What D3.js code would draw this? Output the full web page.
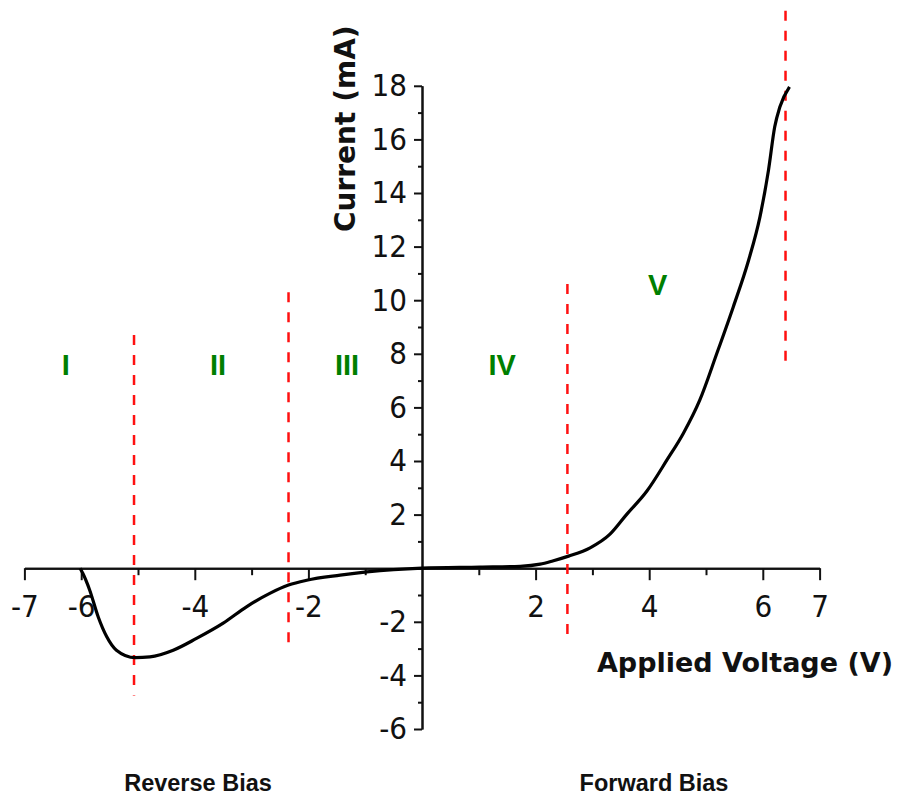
<!DOCTYPE html>
<html>
  <head>
    <meta charset="utf-8">
    <script src="https://d3js.org/d3.v7.min.js"></script>
  </head>
  <style>
    body {
      margin: 0;
      background: white;
    }
    .tick text {
      font-family: "DejaVu Sans Condensed", "DejaVu Sans", sans-serif;
      font-size: 31px;
      fill: #111;
    }
  </style>
  <body>
    <svg width="898" height="798"></svg>
    <script>
      // I-V curve (volts, mA)
      var voltage = [
        -6.02, -5.97, -5.85, -5.7, -5.55, -5.38, -5.05, -4.79, -4.38, -3.97,
        -3.5, -3.09, -2.68, -2.35, -2.03, -1.44, -0.97, 0, 1.02, 1.73, 2.08,
        2.3, 2.58, 2.96, 3.31, 3.6, 3.96, 4.31, 4.6, 4.89, 5.19, 5.48, 5.75,
        5.95, 6.1, 6.21, 6.3, 6.47,
      ];
      var current = [
        0, -0.2, -0.82, -1.82, -2.56, -3.06, -3.34, -3.31, -3.06, -2.62, -2.05,
        -1.44, -0.94, -0.63, -0.45, -0.26, -0.14, 0, 0.04, 0.07, 0.15, 0.27,
        0.45, 0.76, 1.27, 2.0, 2.88, 4.03, 5.03, 6.27, 8.01, 9.75, 11.49,
        13.11, 14.85, 16.47, 17.21, 17.96,
      ];

      // region borders: voltage, top and bottom of the dashed line (mA)
      var borderV = [-5.07, -2.35, 2.56, 6.4];
      var borderTop = [8.7, 10.3, 10.6, 20.8];
      var borderBottom = [-4.75, -3.05, -2.75, 7.5];

      // region names and where they sit (volts, mA at baseline)
      var regionNames = ["I", "II", "III", "IV", "V"];
      var regionV = [-6.27, -3.59, -1.32, 1.41, 4.15];
      var regionI = [7.2, 7.2, 7.2, 7.2, 10.2];

      var xMajor = [-7, -6, -4, -2, 2, 4, 6, 7];
      var xMinor = [-5, -3, -1, 1, 3, 5];
      var yMajor = [-6, -4, -2, 2, 4, 6, 8, 10, 12, 14, 16, 18];
      var yMinor = [-5, -3, -1, 1, 3, 5, 7, 9, 11, 13, 15, 17];

      var svg = d3.select("svg");

      var xScale = d3.scaleLinear().domain([-7, 7]).range([24.4, 819.6]),
        yScale = d3.scaleLinear().domain([-6, 18]).range([729, 85.8]);

      var x0 = xScale(0),
        y0 = yScale(0);

      // plain hyphen for negatives, like the picture
      var plain = function (d) {
        return String(d);
      };

      // x axis, through I = 0
      var xAxis = svg
        .append("g")
        .attr("transform", "translate(0," + y0 + ")");

      xAxis
        .append("g")
        .call(
          d3
            .axisBottom(xScale)
            .tickValues(xMinor)
            .tickSize(7)
            .tickSizeOuter(0)
            .tickFormat("")
        );

      xAxis
        .append("g")
        .call(
          d3
            .axisBottom(xScale)
            .tickValues(xMajor)
            .tickSize(12)
            .tickSizeOuter(0)
            .tickPadding(15)
            .tickFormat(plain)
        );

      // y axis, through V = 0
      var yAxis = svg
        .append("g")
        .attr("transform", "translate(" + x0 + ",0)");

      yAxis
        .append("g")
        .call(
          d3
            .axisLeft(yScale)
            .tickValues(yMinor)
            .tickSize(4)
            .tickSizeOuter(0)
            .tickFormat("")
        );

      yAxis
        .append("g")
        .call(
          d3
            .axisLeft(yScale)
            .tickValues(yMajor)
            .tickSize(8)
            .tickSizeOuter(0)
            .tickPadding(7)
            .tickFormat(plain)
        );

      svg.selectAll(".domain").style("stroke", "#111").style("stroke-width", 2);
      svg.selectAll(".tick line").style("stroke", "#111").style("stroke-width", 2);

      // dashed region borders
      svg
        .append("g")
        .selectAll("line")
        .data(borderV)
        .enter()
        .append("line")
        .attr("x1", function (d) {
          return xScale(d);
        })
        .attr("x2", function (d) {
          return xScale(d);
        })
        .attr("y1", function (d, i) {
          return yScale(borderTop[i]);
        })
        .attr("y2", function (d, i) {
          return yScale(borderBottom[i]);
        })
        .style("stroke", "#ff1010")
        .style("stroke-width", 2.5)
        .style("stroke-dasharray", "10,10");

      // the I-V curve
      var line = d3
        .line()
        .x(function (d, i) {
          return xScale(voltage[i]);
        })
        .y(function (d) {
          return yScale(d);
        })
        .curve(d3.curveMonotoneX);

      svg
        .append("path")
        .datum(current)
        .attr("d", line)
        .style("fill", "none")
        .style("stroke", "#000")
        .style("stroke-width", 3.2)
        .style("stroke-linejoin", "round");

      // region names
      svg
        .append("g")
        .selectAll("text")
        .data(regionNames)
        .enter()
        .append("text")
        .attr("x", function (d, i) {
          return xScale(regionV[i]);
        })
        .attr("y", function (d, i) {
          return yScale(regionI[i]);
        })
        .attr("text-anchor", "middle")
        .style("font-family", "Liberation Sans, Arial, sans-serif")
        .style("font-weight", "bold")
        .style("font-size", "29px")
        .style("fill", "#007f00")
        .text(function (d) {
          return d;
        });

      // axis titles
      svg
        .append("text")
        .attr("x", 893)
        .attr("y", 672)
        .attr("text-anchor", "end")
        .style("font-family", "DejaVu Sans, sans-serif")
        .style("font-weight", "bold")
        .style("font-size", "27px")
        .style("fill", "#111")
        .text("Applied Voltage (V)");

      svg
        .append("text")
        .attr("transform", "translate(355,232)rotate(-90)")
        .attr("text-anchor", "start")
        .style("font-family", "DejaVu Sans, sans-serif")
        .style("font-weight", "bold")
        .style("font-size", "28px")
        .style("fill", "#111")
        .text("Current (mA)");

      // bias captions under the plot
      svg
        .append("text")
        .attr("x", 198)
        .attr("y", 791)
        .attr("text-anchor", "middle")
        .style("font-family", "Liberation Sans, Arial, sans-serif")
        .style("font-weight", "bold")
        .style("font-size", "23.5px")
        .style("fill", "#111")
        .text("Reverse Bias");

      svg
        .append("text")
        .attr("x", 654)
        .attr("y", 791)
        .attr("text-anchor", "middle")
        .style("font-family", "Liberation Sans, Arial, sans-serif")
        .style("font-weight", "bold")
        .style("font-size", "23.5px")
        .style("fill", "#111")
        .text("Forward Bias");
    </script>
  </body>
</html>
